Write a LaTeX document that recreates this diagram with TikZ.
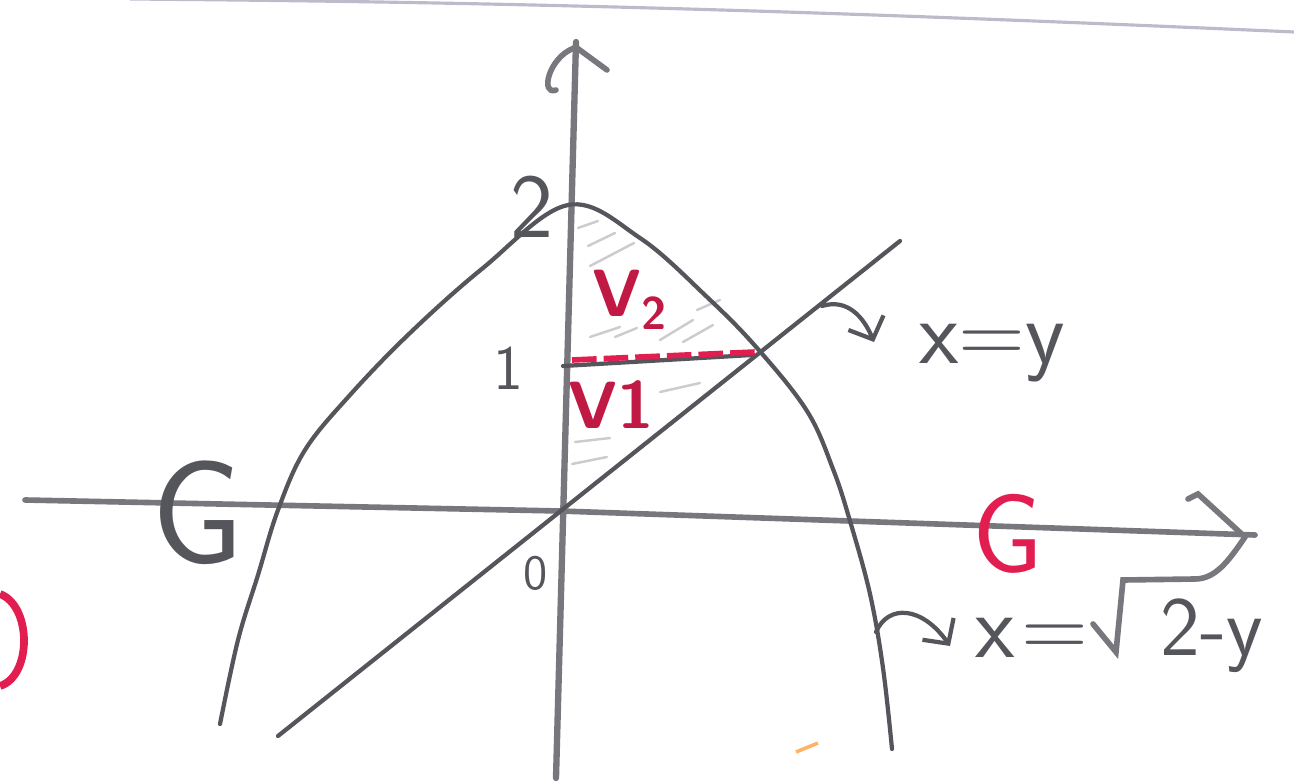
\documentclass[tikz,border=0pt]{standalone}
\usepackage{fontspec}
\usetikzlibrary{arrows.meta}
\definecolor{pencil}{RGB}{85,85,92}
\definecolor{penred}{RGB}{226,30,80}
\definecolor{ruled}{RGB}{190,186,204}
\begin{document}
\begin{tikzpicture}[x=0.01cm,y=-0.01cm,
  >={Straight Barb[length=1.8mm,width=3.8mm]},
  axis/.style={draw=pencil!80,line width=1.6pt,line cap=round},
  curve/.style={draw=pencil,line width=1.2pt,line cap=round},
  hand/.style={text=pencil,inner sep=0pt,font=\sffamily\fontsize{26}{28}\selectfont},
  redhand/.style={text=penred!85!black,inner sep=0pt,font=\sffamily\bfseries\fontsize{19}{21}\selectfont},
  hook/.style={->,draw=pencil,line width=1.2pt,line cap=round},
  hatch/.style={draw=pencil!30,line width=0.7pt,line cap=round}]
  \useasboundingbox (0,0) rectangle (1294,782);
  % ruled line of the page
  \draw[ruled,line width=0.9pt] (130,-1) .. controls (500,2) and (800,10) .. (1294,32);
  % axes
  \draw[axis] (25,500) -- (560,511) -- (1255,535);
  \draw[axis,line width=1.8pt] (556,778) -- (576,42);
  \draw[axis] (574,48) .. controls (548,58) and (540,96) .. (556,90);
  \draw[axis] (577,48) -- (607,70);
  \draw[axis] (1188,499) -- (1198,494) -- (1245,537);
  \draw[axis] (1245,537) .. controls (1228,562) and (1215,579) .. (1195,579) -- (1123,580)
    -- (1116,652) -- (1093,624);
  % hatching of the region
  \foreach \a/\b in {{(578,228)/(598,221)},{(588,246)/(615,233)},{(590,266)/(634,243)},
    {(590,337)/(620,327)},{(615,337)/(637,328)},{(660,340)/(693,320)},{(683,342)/(713,325)},
    {(697,310)/(720,300)},{(660,392)/(700,383)},{(575,442)/(610,438)},{(572,464)/(607,457)}}
    \draw[hatch] \a -- \b;
  % curves
  \draw[curve] plot[smooth,tension=0.6] coordinates {(220,724) (238,640) (258,575) (278,510)
    (305,450) (350,395) (410,333) (483,268) (568,205) (640,238) (707,297) (757,348)
    (807,411) (833,469) (850,521) (870,594) (883,668) (892,749)};
  \draw[curve] (278,736) -- (900,241);
  % level y=1
  \draw[curve] (563,366) -- (752,355);
  \draw[penred,line width=1.6pt,dash pattern=on 7pt off 2pt] (572,360) -- (755,352);
  % labels
  \node[hand] (two) at (532,207) {2};
  \node[hand,font=\sffamily\fontsize{18}{20}\selectfont] (one) at (508,368) {1};
  \node[hand,font=\sffamily\fontsize{14}{16}\selectfont] (zero) at (536,573) {0};
  \node[redhand] (vtwo) at (630,300) {V\raisebox{-0.2em}{\fontsize{13}{14}\selectfont 2}};
  \node[redhand] (vone) at (611,405) {V1};
  \node[hand] (lblxy) at (992,353) {x=y};
  \node[hand] (lblxeq) at (1032,638) {x\kern2pt=};
  \node[hand,font=\sffamily\fontsize{24}{26}\selectfont] (lblroot) at (1212,636) {2-y};
  \node[hand,font=\sffamily\fontsize{42}{44}\selectfont] (gleft) at (198,513) {G};
  \node[hand,text=penred,font=\sffamily\fontsize{32}{34}\selectfont] (gred) at (1008,534) {G};
  % hooks from the curves to their equations
  \coordinate (online) at (822,306);
  \coordinate (tipxy) at (874,342);
  \coordinate (oncurve) at (876,632);
  \coordinate (tiproot) at (950,646);
  \draw[hook] (online) .. controls (848,298) and (864,318) .. (tipxy);
  \draw[hook] (oncurve) .. controls (888,604) and (922,606) .. (tiproot);
  % marks at the margins
  \draw[penred,line width=2.2pt] (0,594) .. controls (32,606) and (32,676) .. (0,686);
  \draw[orange!60,line width=1pt] (796,752) -- (818,743);
\end{tikzpicture}
\end{document}
